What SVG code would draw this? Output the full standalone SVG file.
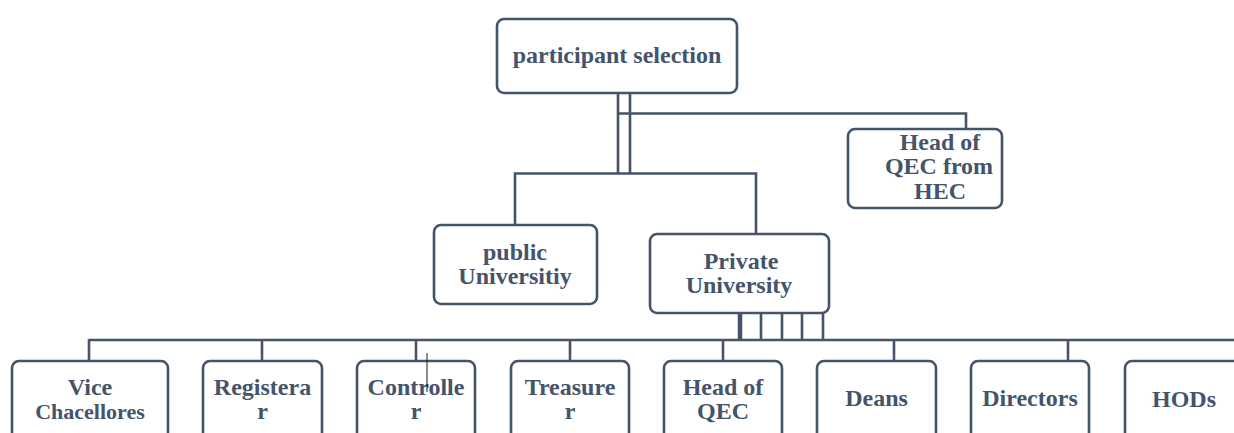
<svg xmlns="http://www.w3.org/2000/svg" width="1234" height="433" viewBox="0 0 1234 433">
<style>
.box{fill:#fff;stroke:#44546A;stroke-width:2.6}
.ln{fill:none;stroke:#44546A;stroke-width:2.6}
text{font-family:"Liberation Serif","Times New Roman",serif;font-weight:bold;font-size:24px;fill:#44546A;text-anchor:middle}
</style>
<rect width="1234" height="433" fill="#fff"/>
<g id="connectors">
<line class="ln" x1="618" y1="93" x2="618" y2="174"/>
<line class="ln" x1="630" y1="93" x2="630" y2="174"/>
<path class="ln" d="M618 113.5 H966 V129"/>
<path class="ln" d="M515 225 V173.5 H756 V234"/>
<line class="ln" x1="740" y1="313" x2="740" y2="340" style="stroke-width:4.5"/>
<line class="ln" x1="761" y1="313" x2="761" y2="340"/>
<line class="ln" x1="782" y1="313" x2="782" y2="340"/>
<line class="ln" x1="802" y1="313" x2="802" y2="340"/>
<line class="ln" x1="823" y1="313" x2="823" y2="340"/>
<line class="ln" x1="89" y1="340" x2="1236" y2="340"/>
<line class="ln" x1="89" y1="339" x2="89" y2="361"/>
<line class="ln" x1="262" y1="340" x2="262" y2="361"/>
<line class="ln" x1="416" y1="340" x2="416" y2="361"/>
<line class="ln" x1="570" y1="340" x2="570" y2="361"/>
<line class="ln" x1="723" y1="340" x2="723" y2="361"/>
<line class="ln" x1="894" y1="340" x2="894" y2="361"/>
<line class="ln" x1="1068" y1="340" x2="1068" y2="361"/>
</g>
<g id="n-participant">
<rect class="box" x="497" y="19" width="240" height="74" rx="7"/>
<text x="617" y="63">participant selection</text>
</g>
<g id="n-headqec-hec">
<rect class="box" x="848" y="129" width="154" height="79" rx="7"/>
<text x="940" y="150">Head of</text>
<text x="939" y="174">QEC from</text>
<text x="940" y="199">HEC</text>
</g>
<g id="n-public">
<rect class="box" x="434" y="225" width="163" height="79" rx="7"/>
<text x="515" y="260">public</text>
<text x="515" y="284">Universitiy</text>
</g>
<g id="n-private">
<rect class="box" x="650" y="234" width="179" height="79" rx="7"/>
<text x="741" y="269">Private</text>
<text x="739" y="293">University</text>
</g>
<g id="n-vice">
<rect class="box" x="12" y="361" width="156" height="100" rx="7"/>
<text x="90" y="395">Vice</text>
<text x="90" y="419" style="font-size:22px">Chacellores</text>
</g>
<g id="n-registerar">
<rect class="box" x="203" y="361" width="119" height="100" rx="7"/>
<text x="262.5" y="395">Registera</text>
<text x="262.5" y="419">r</text>
</g>
<g id="n-controller">
<rect class="box" x="357" y="361" width="118" height="100" rx="7"/>
<text x="416" y="395">Controlle</text>
<text x="416" y="419">r</text>
<line x1="427" y1="353" x2="427" y2="392" stroke="#1a1a1a" stroke-width="1"/>
</g>
<g id="n-treasurer">
<rect class="box" x="511" y="361" width="118" height="100" rx="7"/>
<text x="570" y="395">Treasure</text>
<text x="570" y="419">r</text>
</g>
<g id="n-headqec">
<rect class="box" x="664" y="361" width="118" height="100" rx="7"/>
<text x="723" y="395">Head of</text>
<text x="723" y="419">QEC</text>
</g>
<g id="n-deans">
<rect class="box" x="817" y="361" width="119" height="100" rx="7"/>
<text x="876.5" y="406">Deans</text>
</g>
<g id="n-directors">
<rect class="box" x="971" y="361" width="118" height="100" rx="7"/>
<text x="1030" y="406">Directors</text>
</g>
<g id="n-hods">
<rect class="box" x="1125" y="361" width="119" height="100" rx="7"/>
<text x="1184" y="407">HODs</text>
</g>
</svg>
